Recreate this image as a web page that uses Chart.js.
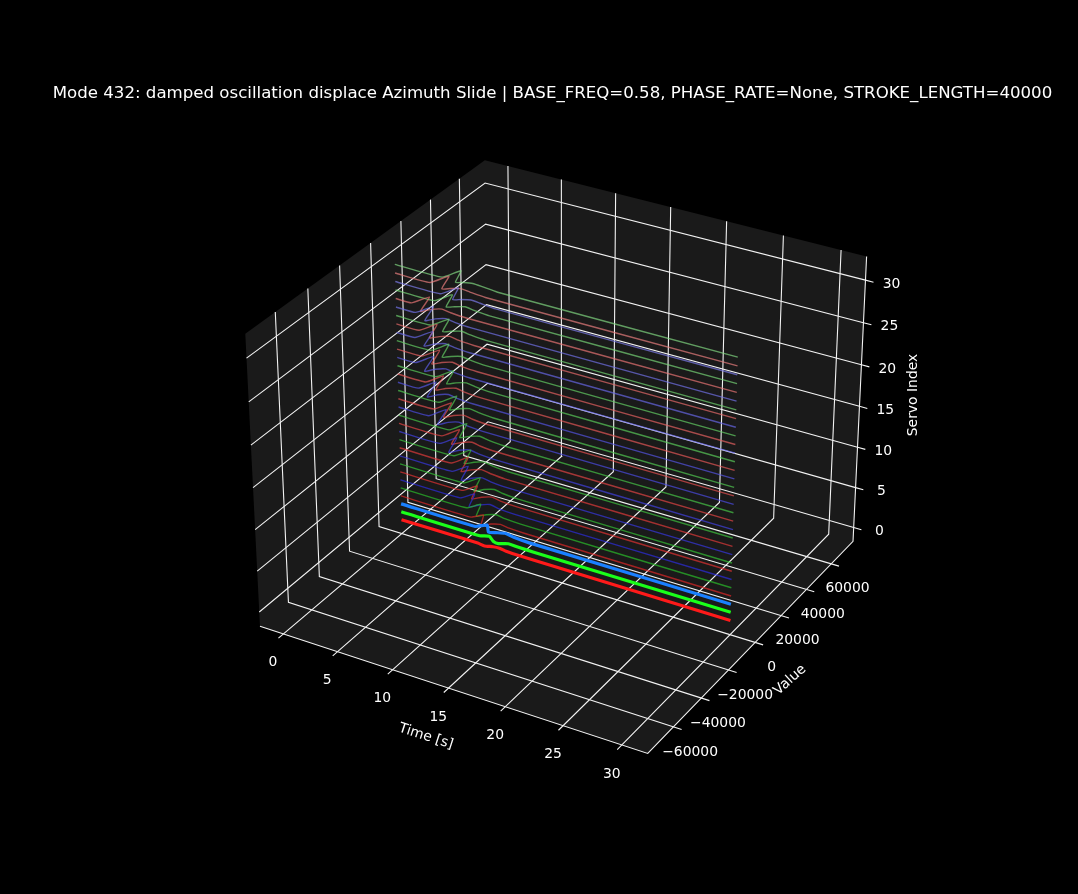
<!DOCTYPE html>
<html>
<head>
<meta charset="utf-8">
<title>Mode 432</title>
<script src="https://cdn.jsdelivr.net/npm/chart.js@4/dist/chart.umd.min.js"></script>
<style>
  html, body { margin: 0; background: #000; }
  canvas { display: block; }
</style>
</head>
<body>
<canvas id="chart" width="1078" height="894"></canvas>
<script>
const chartTitle = "Mode 432: damped oscillation displace Azimuth Slide | BASE_FREQ=0.58, PHASE_RATE=None, STROKE_LENGTH=40000";

const timeTicks = [0, 5, 10, 15, 20, 25, 30];
const valueTicks = [-60000, -40000, -20000, 0, 20000, 40000, 60000];
const servoTicks = [0, 5, 10, 15, 20, 25, 30];

const timeEnds = [0, 30];

// seconds after each servo's start time, shared by the rows in waveValues
const waveOffsets = [0, 0.7, 1.35, 1.9, 2.6, 3.5, 5];

// when the oscillation begins on each servo (index 0..31)
const waveStart = [
  7.2, 7.4, 7.0, 6.6, 6.2, 5.6, 5.8, 6.0,
  4.9, 4.85, 5.1, 3.8, 4.0, 4.7, 2.8, 3.3,
  3.8, 1.9, 2.6, 3.55, 1.7, 2.3, 3.15, 1.7,
  2.1, 3.2, 1.8, 1.45, 3.55, 4.1, 3.2, 4.3
];

const waveValues = [
  [0, -500, 600, 900, 300, 100, 0],
  [0, 1400, -800, -1300, 400, 200, 0],
  [0, 3000, -1000, 0, 1300, 500, 0],
  [0, 3500, -3100, -600, 1000, 300, 0],
  [0, 4700, -3400, -600, 1200, 400, 0],
  [0, 5000, -3800, -800, 1400, 500, 0],
  [0, 5500, -3400, -600, 1400, 500, 0],
  [0, 6000, -3200, -400, 1500, 600, 0],
  [0, 6000, -3800, -700, 1500, 600, 0],
  [0, 6500, -3400, -600, 1400, 600, 0],
  [0, 6500, -3000, -400, 1500, 600, 0],
  [0, 6500, -3800, -700, 1400, 600, 0],
  [0, 7000, -3300, -500, 1500, 600, 0],
  [0, 7000, -2800, -400, 1500, 700, 0],
  [0, 7000, -3800, -600, 1400, 600, 0],
  [0, 7000, -3300, -500, 1500, 600, 0],
  [0, 7000, -2800, -400, 1500, 700, 0],
  [0, 7000, -3800, -600, 1400, 600, 0],
  [0, 7000, -3200, -500, 1500, 600, 0],
  [0, 7000, -2600, -300, 1500, 700, 0],
  [0, 7000, -3800, -700, 1400, 600, 0],
  [0, 7000, -3200, -500, 1500, 600, 0],
  [0, 7000, -2400, -300, 1500, 700, 0],
  [0, 7000, -3800, -700, 1400, 600, 0],
  [0, 7000, -3000, -500, 1500, 600, 0],
  [0, 7000, -2100, -300, 1500, 700, 0],
  [0, 7000, -3600, -600, 1400, 600, 0],
  [0, 7000, -3800, -700, 1400, 600, 0],
  [0, 7000, -2000, -300, 1500, 800, 0],
  [0, 7000, -1600, 0, 1400, 900, 0],
  [0, 7500, -2100, -300, 1400, 800, 0],
  [0, 7500, -1000, 300, 1300, 900, 0]
];

// ==================== 3D PROJECTION ====================

// pane extents of the three axes (tick range plus margins)
const timeLimits = [-2.1875, 32.1875];
const valueLimits = [-78000, 78000];
const servoLimits = [-1.75, 32.75];

const boxX = 1.2401;
const boxZ = 0.9301;
const eyeDistance = 10;
const pixelScale = 3581;
const centerX = 562.2;
const centerY = 442;

const toUnit = (v, limits) => (v - limits[0]) / (limits[1] - limits[0]);

// unit cube position to page pixel, same camera as elev=30, azim=-60
function projectUnit(a, b, c) {
  const qx = (a - 0.5) * boxX;
  const qy = (b - 0.5) * boxX;
  const qz = (c - 0.5) * boxZ;
  const xe = 0.866 * qx + 0.5 * qy;
  const ye = -0.25 * qx + 0.433 * qy + 0.866 * qz;
  const depth = eyeDistance - (0.433 * qx - 0.75 * qy + 0.5 * qz);
  return { x: centerX + (pixelScale * xe) / depth, y: centerY - (pixelScale * ye) / depth };
}

function project(time, value, servo) {
  return projectUnit(toUnit(time, timeLimits), toUnit(value, valueLimits), toUnit(servo, servoLimits));
}

// ==================== DATASETS ====================

function servoColor(servo) {
  if (servo === 0) return "#ff1a1a";
  if (servo === 1) return "#1aff1a";
  if (servo === 2) return "#1a80ff";
  const base = [[225, 30, 30], [30, 190, 30], [30, 30, 225]][servo % 3];
  const lift = (servo / 31) * 0.45;
  const rgb = base.map((c) => Math.round(c + (255 - c) * lift));
  return `rgba(${rgb[0]}, ${rgb[1]}, ${rgb[2]}, 0.68)`;
}

function gridDataset(points, order) {
  return {
    data: points.map((p) => projectUnit(p[0], p[1], p[2])),
    showLine: true,
    fill: false,
    borderColor: "#f2f2f2",
    borderWidth: 1.1,
    pointRadius: 0,
    order: order || 200,
  };
}

function buildDatasets() {
  const sets = [
    // the three panes seen together, as one outline
    {
      data: [[0, 0, 0], [1, 0, 0], [1, 1, 0], [1, 1, 1], [0, 1, 1], [0, 0, 1]].map((c) =>
        projectUnit(c[0], c[1], c[2])
      ),
      showLine: true,
      fill: "shape",
      backgroundColor: "#1a1a1a",
      borderWidth: 0,
      pointRadius: 0,
      order: 300,
    },
    // axis lines along the front of the floor and the right edge
    gridDataset([[0, 0, 0], [1, 0, 0], [1, 1, 0], [1, 1, 1]], 190),
  ];

  // time grid: floor then up the back wall, with the tick sticking out front
  timeTicks.forEach((t) => {
    const a = toUnit(t, timeLimits);
    sets.push(gridDataset([[a, -0.02, 0], [a, 1, 0], [a, 1, 1]]));
  });
  // value grid: floor then up the left wall, tick on the right
  valueTicks.forEach((v) => {
    const b = toUnit(v, valueLimits);
    sets.push(gridDataset([[1.02, b, 0], [0, b, 0], [0, b, 1]]));
  });
  // servo grid: left wall then back wall, tick on the right
  servoTicks.forEach((s) => {
    const c = toUnit(s, servoLimits);
    sets.push(gridDataset([[0, 0, c], [0, 1, c], [1, 1, c], [1.02, 1, c]]));
  });

  waveStart.forEach((start, servo) => {
    const points = [project(timeEnds[0], 0, servo)];
    waveOffsets.forEach((offset, k) => {
      points.push(project(start + offset, waveValues[servo][k], servo));
    });
    points.push(project(timeEnds[1], 0, servo));
    sets.push({
      data: points,
      showLine: true,
      fill: false,
      borderColor: servoColor(servo),
      borderWidth: servo < 3 ? 3.2 : 1.4,
      tension: 0.15,
      pointRadius: 0,
      order: 10 + (servo < 3 ? 0 : servo),
    });
  });
  return sets;
}

// ==================== TEXT ====================

function drawText(ctx, text, x, y, size, angle) {
  ctx.save();
  ctx.translate(x, y);
  ctx.rotate(angle || 0);
  ctx.font = `${size}px "DejaVu Sans"`;
  ctx.fillStyle = "#ffffff";
  ctx.textAlign = "center";
  ctx.textBaseline = "middle";
  ctx.fillText(text, 0, 0);
  ctx.restore();
}

const axisText = {
  id: "axisText",
  afterDraw(chart) {
    const ctx = chart.ctx;
    drawText(ctx, chartTitle, 552.5, 94, 16.62);

    timeTicks.forEach((t) => {
      const p = projectUnit(toUnit(t, timeLimits), -0.02, 0);
      drawText(ctx, String(t), p.x - 5.5, p.y + 24.5, 13.9);
    });
    valueTicks.forEach((v) => {
      const p = projectUnit(1.02, toUnit(v, valueLimits), 0);
      drawText(ctx, String(v).replace("-", "\u2212"), p.x + 8.5, p.y + 22.5, 13.9);
    });
    servoTicks.forEach((s) => {
      const p = projectUnit(1.02, 1, toUnit(s, servoLimits));
      drawText(ctx, String(s), p.x + 18, p.y + 2, 13.9);
    });

    drawText(ctx, "Time [s]", 426, 736.5, 13.9, (18 * Math.PI) / 180);
    drawText(ctx, "Value", 790, 680, 13.9, (-42 * Math.PI) / 180);
    drawText(ctx, "Servo Index", 913.5, 395, 13.9, -Math.PI / 2);
  },
};

new Chart(document.getElementById("chart"), {
  type: "scatter",
  data: { datasets: buildDatasets() },
  options: {
    responsive: false,
    animation: false,
    devicePixelRatio: 1,
    layout: { padding: 0 },
    plugins: { legend: { display: false }, tooltip: { enabled: false }, title: { display: false } },
    scales: {
      x: { type: "linear", display: false, min: 0, max: 1078 },
      y: { type: "linear", display: false, min: 0, max: 894, reverse: true },
    },
  },
  plugins: [axisText],
});
</script>
</body>
</html>
